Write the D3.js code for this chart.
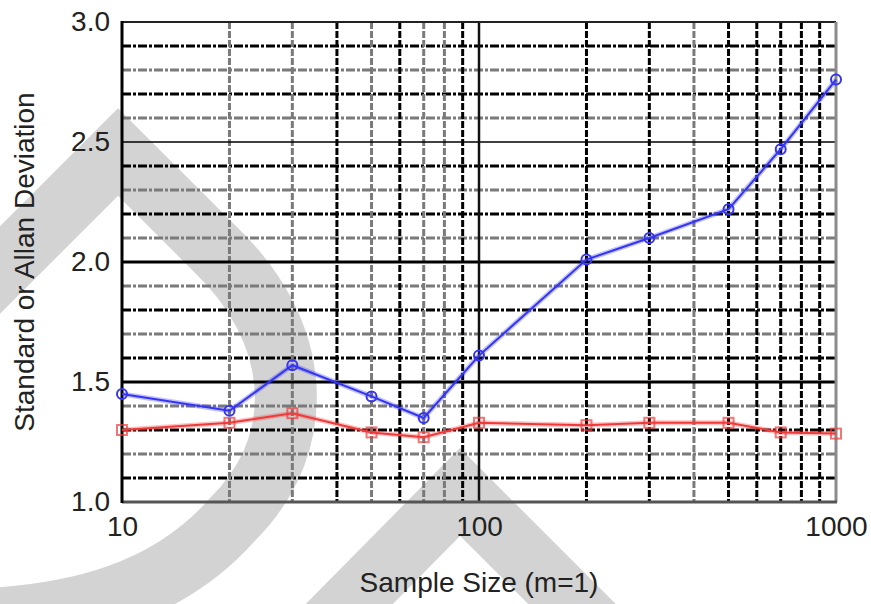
<!DOCTYPE html>
<html lang="en">
<head>
    <meta charset="UTF-8">
    <title>Standard or Allan Deviation</title>
    <style>
        body {
            margin: 0;
            background: #fff;
        }
        svg text {
            font-family: Arial, "Liberation Sans", sans-serif;
            fill: #222;
        }
    </style>
</head>
<body>
    <div id="chart"></div>

    <script src="https://d3js.org/d3.v7.min.js"></script>
    <script>
        // values
        const sampleSizes = [10, 20, 30, 50, 70, 100, 200, 300, 500, 700, 1000]
        const allanDev = [1.45, 1.38, 1.57, 1.44, 1.35, 1.61, 2.01, 2.10, 2.22, 2.47, 2.76]
        const stdDev = [1.30, 1.33, 1.37, 1.29, 1.27, 1.33, 1.32, 1.33, 1.33, 1.29, 1.285]

        const yMajorTicks = [1.0, 1.5, 2.0, 2.5, 3.0]
        const yMinorTicks = [1.1, 1.2, 1.3, 1.4, 1.6, 1.7, 1.8, 1.9, 2.1, 2.2, 2.3, 2.4, 2.6, 2.7, 2.8, 2.9]
        const xMajorTicks = [10, 100, 1000]
        const xMinorTicks = [20, 30, 40, 50, 60, 70, 80, 90, 200, 300, 400, 500, 600, 700, 800, 900]

        const xLabel = 'Sample Size (m=1)'
        const yLabel = 'Standard or Allan Deviation'

        const width = 871
        const height = 604
        const margin = { top: 22, right: 35, bottom: 102, left: 122 }

        const svg = d3.select('#chart')
            .append('svg')
            .attr('width', width)
            .attr('height', height)

        const xScale = d3.scaleLog()
            .domain([10, 1000])
            .range([margin.left, width - margin.right])

        const yScale = d3.scaleLinear()
            .domain([1, 3])
            .range([height - margin.bottom, margin.top])

        // grid styles: which minor lines look dark in the original
        const darkY = [2.9, 2.7, 2.4, 2.2, 1.8, 1.6, 1.3, 1.1]
        const darkX = [40, 60, 90, 200, 300, 500, 600, 700, 800, 900]

        drawWatermark()
        drawGrid()
        drawFrame()
        drawAxis()
        drawSeries(stdDev, '#f03a3a', 'square')
        drawSeries(allanDev, '#3434f4', 'circle')

        function drawWatermark() {
            const g = svg.append('g')
                .attr('fill', 'none')
                .attr('stroke', '#d3d3d3')
                .attr('stroke-width', 62)
                .attr('stroke-linejoin', 'miter')
            g.append('path')
                .attr('d', 'M -30 300 L 118 152 L 215 249 C 300 330, 312 440, 232 520 C 170 590, 80 618, -40 620')
            g.append('path')
                .attr('d', 'M 290 664 L 460 492 L 632 664')
        }

        function drawGrid() {
            const left = margin.left
            const right = width - margin.right
            const top = margin.top
            const bottom = height - margin.bottom

            svg.append('g')
                .selectAll('line')
                .data(yMinorTicks)
                .join('line')
                .attr('x1', left)
                .attr('x2', right)
                .attr('y1', d => yScale(d))
                .attr('y2', d => yScale(d))
                .attr('stroke', d => darkY.includes(d) ? '#000' : '#7a7a7a')
                .attr('stroke-width', 3)
                .attr('stroke-dasharray', '9,2,3,2')

            svg.append('g')
                .selectAll('line')
                .data(xMinorTicks)
                .join('line')
                .attr('x1', d => xScale(d))
                .attr('x2', d => xScale(d))
                .attr('y1', top)
                .attr('y2', bottom)
                .attr('stroke', d => darkX.includes(d) ? '#000' : '#7a7a7a')
                .attr('stroke-width', 3)
                .attr('stroke-dasharray', '7,2')

            svg.append('g')
                .selectAll('line')
                .data(yMajorTicks.slice(1, -1))
                .join('line')
                .attr('x1', left)
                .attr('x2', right)
                .attr('y1', d => yScale(d))
                .attr('y2', d => yScale(d))
                .attr('stroke', '#000')
                .attr('stroke-width', d => d === 2.5 ? 1.5 : 3)

            svg.append('g')
                .selectAll('line')
                .data(xMajorTicks.slice(1, -1))
                .join('line')
                .attr('x1', d => xScale(d))
                .attr('x2', d => xScale(d))
                .attr('y1', top)
                .attr('y2', bottom)
                .attr('stroke', '#111')
                .attr('stroke-width', 2.5)
        }

        function drawFrame() {
            const left = margin.left
            const right = width - margin.right
            const top = margin.top
            const bottom = height - margin.bottom
            svg.append('line')
                .attr('x1', left).attr('x2', right)
                .attr('y1', top).attr('y2', top)
                .attr('stroke', '#222').attr('stroke-width', 2)
            svg.append('line')
                .attr('x1', right).attr('x2', right)
                .attr('y1', top).attr('y2', bottom)
                .attr('stroke', '#8c8c8c').attr('stroke-width', 3)
            svg.append('line')
                .attr('x1', left).attr('x2', right + 1)
                .attr('y1', bottom).attr('y2', bottom)
                .attr('stroke', '#555').attr('stroke-width', 3)
            svg.append('line')
                .attr('x1', left).attr('x2', left)
                .attr('y1', top - 1).attr('y2', bottom + 1)
                .attr('stroke', '#000').attr('stroke-width', 3)
        }

        function drawAxis() {
            const yAxis = d3.axisLeft(yScale)
                .tickValues(yMajorTicks)
                .tickSize(0)
                .tickPadding(12)
                .tickFormat(d3.format('.1f'))
            const xAxis = d3.axisBottom(xScale)
                .tickValues(xMajorTicks)
                .tickSize(0)
                .tickPadding(14)
                .tickFormat(d3.format('d'))

            svg.append('g')
                .attr('transform', `translate(${margin.left}, 0)`)
                .call(yAxis)
                .call(g => g.select('.domain').remove())
                .selectAll('text')
                .style('font-size', '28px')

            svg.append('g')
                .attr('transform', `translate(0, ${height - margin.bottom})`)
                .call(xAxis)
                .call(g => g.select('.domain').remove())
                .selectAll('text')
                .style('font-size', '28px')

            svg.append('text')
                .attr('x', (margin.left + width - margin.right) / 2)
                .attr('y', 592)
                .attr('text-anchor', 'middle')
                .style('font-size', '28px')
                .text(xLabel)

            svg.append('text')
                .attr('transform', `translate(34, ${(margin.top + height - margin.bottom) / 2}) rotate(-90)`)
                .attr('text-anchor', 'middle')
                .style('font-size', '28px')
                .text(yLabel)
        }

        function drawSeries(values, color, marker) {
            const points = sampleSizes.map((x, i) => ({ x, y: values[i] }))
            const line = d3.line()
                .x(d => xScale(d.x))
                .y(d => yScale(d.y))
            const g = svg.append('g')

            // soft halo like the blurry original
            g.append('path')
                .datum(points)
                .attr('fill', 'none')
                .attr('stroke', color)
                .attr('stroke-opacity', 0.3)
                .attr('stroke-width', 5)
                .attr('d', line)
            g.append('path')
                .datum(points)
                .attr('fill', 'none')
                .attr('stroke', color)
                .attr('stroke-width', 2)
                .attr('d', line)

            if (marker === 'circle') {
                g.selectAll('circle')
                    .data(points)
                    .join('circle')
                    .attr('cx', d => xScale(d.x))
                    .attr('cy', d => yScale(d.y))
                    .attr('r', 5)
                    .attr('fill', 'none')
                    .attr('stroke', color)
                    .attr('stroke-width', 2)
            } else {
                g.selectAll('rect')
                    .data(points)
                    .join('rect')
                    .attr('x', d => xScale(d.x) - 5)
                    .attr('y', d => yScale(d.y) - 5)
                    .attr('width', 10)
                    .attr('height', 10)
                    .attr('fill', 'none')
                    .attr('stroke', color)
                    .attr('stroke-opacity', 0.7)
                    .attr('stroke-width', 2)
            }
        }
    </script>
</body>
</html>
